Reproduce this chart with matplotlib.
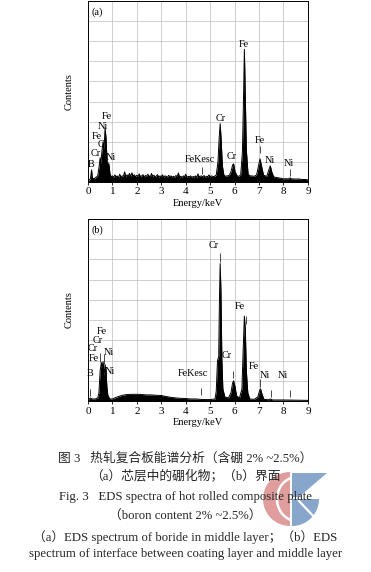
import matplotlib
matplotlib.use("Agg")
import matplotlib.pyplot as plt
from matplotlib.patches import Wedge, Polygon, Arc

plt.rcParams['font.family'] = ['Liberation Serif', 'Noto Sans CJK SC']

# ---- panel (a): boride in middle layer ----
energy_a = [0.00, 0.05, 0.10, 0.15, 0.18, 0.25, 0.30, 0.40, 0.45, 0.50, 0.53, 0.57, 0.62, 0.66,
            0.70, 0.74, 0.78, 0.82, 0.86, 0.90, 0.95, 1.00, 1.05, 1.10, 1.15, 1.20, 1.25, 1.30,
            1.35, 1.40, 1.45, 1.50, 1.55, 1.60, 1.65, 1.70, 1.75, 1.80, 1.85, 1.90, 1.95, 2.00,
            2.05, 2.10, 2.15, 2.20, 2.25, 2.30, 2.35, 2.40, 2.45, 2.50, 2.55, 2.60, 2.65, 2.70,
            2.75, 2.80, 2.85, 2.90, 2.95, 3.00, 3.05, 3.10, 3.15, 3.20, 3.25, 3.30, 3.35, 3.40,
            3.45, 3.50, 3.55, 3.60, 3.65, 3.70, 3.75, 3.80, 3.85, 3.90, 3.95, 4.00, 4.05, 4.10,
            4.15, 4.20, 4.25, 4.30, 4.35, 4.40, 4.45, 4.50, 4.55, 4.60, 4.65, 4.70, 4.75, 4.80,
            4.85, 4.90, 4.95, 5.00, 5.05, 5.10, 5.15, 5.20, 5.25, 5.32, 5.37, 5.41, 5.45, 5.50,
            5.56, 5.62, 5.70, 5.78, 5.85, 5.92, 5.96, 6.02, 6.10, 6.18, 6.25, 6.32, 6.37, 6.40,
            6.43, 6.48, 6.55, 6.62, 6.70, 6.80, 6.90, 6.98, 7.04, 7.10, 7.18, 7.25, 7.32, 7.40,
            7.46, 7.52, 7.60, 7.70, 7.80, 7.90, 8.00, 8.10, 8.20, 8.26, 8.32, 8.40, 8.50, 8.60,
            8.70, 8.80, 8.90, 9.00]
counts_a = [0.00, 0.10, 0.15, 0.60, 0.20, 0.15, 0.20, 0.30, 0.70, 1.20, 0.90, 1.50, 2.00, 1.60,
            2.70, 2.20, 1.10, 0.70, 0.90, 0.40, 0.25, 0.30, 0.22, 0.35, 0.25, 0.30, 0.20, 0.38,
            0.25, 0.30, 0.28, 0.50, 0.25, 0.35, 0.30, 0.42, 0.28, 0.45, 0.30, 0.35, 0.25, 0.33,
            0.28, 0.40, 0.25, 0.30, 0.36, 0.24, 0.32, 0.28, 0.38, 0.30, 0.25, 0.42, 0.27, 0.33,
            0.25, 0.30, 0.36, 0.22, 0.30, 0.26, 0.35, 0.24, 0.30, 0.28, 0.22, 0.33, 0.26, 0.30,
            0.24, 0.28, 0.22, 0.32, 0.26, 0.45, 0.24, 0.28, 0.22, 0.30, 0.25, 0.38, 0.22, 0.28,
            0.25, 0.30, 0.22, 0.27, 0.24, 0.30, 0.22, 0.40, 0.25, 0.28, 0.30, 0.24, 0.32, 0.22,
            0.28, 0.25, 0.35, 0.25, 0.30, 0.28, 0.26, 0.30, 0.35, 1.00, 2.20, 2.90, 2.10, 0.80,
            0.35, 0.28, 0.30, 0.32, 0.50, 0.85, 0.90, 0.50, 0.30, 0.28, 0.35, 1.50, 4.50, 6.60,
            4.80, 1.60, 0.40, 0.30, 0.30, 0.28, 0.35, 0.80, 1.15, 0.80, 0.35, 0.30, 0.28, 0.60,
            0.80, 0.50, 0.25, 0.22, 0.20, 0.18, 0.15, 0.16, 0.15, 0.20, 0.15, 0.15, 0.14, 0.15,
            0.13, 0.12, 0.12, 0.10]

labels_a = ["Fe", "Ni", "Fe", "C", "Cr", "Ni", "B", "FeKesc", "Cr", "Cr", "Fe", "Fe", "Ni", "Ni"]
label_x_a = [0.76, 0.60, 0.38, 0.52, 0.30, 0.95, 0.12, 4.58, 5.43, 5.88, 6.39, 7.04, 7.45, 8.22]
label_y_a = [3.25, 2.75, 2.28, 1.85, 1.40, 1.20, 0.85, 1.10, 3.17, 1.28, 6.83, 2.05, 1.08, 0.92]
mark_x_a = [0.83, 4.65, 7.04, 8.26]
mark_lo_a = [0.65, 0.40, 1.45, 0.30]
mark_hi_a = [1.00, 0.75, 1.80, 0.65]

# ---- panel (b): interface between coating layer and middle layer ----
energy_b = [0.00, 0.05, 0.10, 0.15, 0.20, 0.30, 0.40, 0.45, 0.50, 0.55, 0.58, 0.62, 0.66, 0.70,
            0.74, 0.78, 0.82, 0.90, 1.00, 1.10, 1.20, 1.40, 1.60, 1.80, 2.00, 2.20, 2.40, 2.60,
            2.80, 3.00, 3.20, 3.40, 3.60, 3.80, 4.00, 4.20, 4.40, 4.60, 4.80, 5.00, 5.20, 5.25,
            5.30, 5.35, 5.38, 5.41, 5.44, 5.48, 5.52, 5.60, 5.75, 5.85, 5.92, 5.96, 6.02, 6.08,
            6.20, 6.30, 6.35, 6.40, 6.44, 6.48, 6.54, 6.62, 6.80, 6.95, 7.02, 7.06, 7.12, 7.20,
            7.40, 7.47, 7.55, 8.00, 8.50, 9.00]
counts_b = [0.00, 0.10, 0.15, 0.10, 0.10, 0.10, 0.15, 0.40, 1.50, 1.90, 1.70, 1.95, 1.20, 1.80,
            1.50, 0.60, 0.25, 0.10, 0.10, 0.15, 0.20, 0.28, 0.32, 0.33, 0.33, 0.32, 0.30, 0.30,
            0.28, 0.27, 0.22, 0.18, 0.15, 0.13, 0.12, 0.10, 0.10, 0.08, 0.07, 0.07, 0.10, 0.50,
            2.00, 2.20, 5.00, 6.80, 5.50, 2.00, 0.60, 0.20, 0.15, 0.40, 0.90, 1.00, 0.70, 0.25,
            0.15, 0.60, 2.50, 4.20, 3.50, 1.50, 0.40, 0.10, 0.08, 0.20, 0.50, 0.60, 0.35, 0.08,
            0.06, 0.10, 0.05, 0.05, 0.04, 0.03]

labels_b = ["Fe", "Cr", "Cr", "Fe", "Ni", "Ni", "B", "FeKesc", "Cr", "Cr", "Fe", "Fe", "Ni", "Ni"]
label_x_b = [0.55, 0.41, 0.18, 0.25, 0.85, 0.90, 0.10, 4.28, 5.15, 5.68, 6.20, 6.77, 7.24, 7.98]
label_y_b = [3.42, 3.00, 2.60, 2.10, 2.38, 1.44, 1.36, 1.36, 7.70, 2.26, 4.66, 1.69, 1.27, 1.27]
mark_x_b = [0.10, 0.48, 0.65, 0.80, 4.63, 5.41, 5.94, 6.45, 7.04, 7.49, 8.26]
mark_lo_b = [0.25, 1.95, 1.85, 0.30, 0.30, 6.90, 1.15, 3.80, 0.70, 0.20, 0.20]
mark_hi_b = [0.60, 2.35, 2.30, 0.65, 0.65, 7.30, 1.50, 4.20, 1.10, 0.55, 0.55]

xticks = [0, 1, 2, 3, 4, 5, 6, 7, 8, 9]

caption = ["图 3   热轧复合板能谱分析（含硼 2% ~2.5%）",
           "（a）芯层中的硼化物；（b）界面",
           "Fig. 3   EDS spectra of hot rolled composite plate",
           "（boron content 2% ~2.5%）",
           "（a）EDS spectrum of boride in middle layer；（b）EDS",
           "spectrum of interface between coating layer and middle layer"]
cap_y = [458, 477, 497, 517, 537, 554]

fig = plt.figure(figsize=(3.71, 5.72), dpi=100)


def draw_panel(ax, energy, counts, labels, lx, ly, mx, mlo, mhi, tag):
    ax.fill_between(energy, counts, 0, color="black", lw=0)
    ax.plot(energy, counts, color="black", lw=0.7)
    ax.set_xlim(0, 9)
    ax.set_ylim(0, 9)
    ax.set_xticks(xticks)
    ax.set_yticks(range(10))
    ax.set_yticklabels([])
    ax.tick_params(axis="y", length=0)
    ax.tick_params(axis="x", length=2, width=0.6, labelsize=8, pad=2)
    ax.grid(True, color="#bdbdbd", lw=0.5)
    ax.set_axisbelow(True)
    for s in ax.spines.values():
        s.set_linewidth(0.7)
    for t, x, y in zip(labels, lx, ly):
        ax.text(x, y, t, fontsize=7.3, ha="center", va="center")
    ax.vlines(mx, mlo, mhi, color="black", lw=0.5)
    ax.text(0.15, 8.45, tag, fontsize=7.3, ha="left", va="center")
    ax.set_xlabel("Energy/keV", fontsize=7.5, labelpad=2)
    ax.set_ylabel("Contents", fontsize=7.5, labelpad=7)


ax_a = fig.add_axes([0.237, 0.682, 0.593, 0.316])
draw_panel(ax_a, energy_a, counts_a, labels_a, label_x_a, label_y_a,
           mark_x_a, mark_lo_a, mark_hi_a, "(a)")

ax_b = fig.add_axes([0.237, 0.299, 0.593, 0.318])
draw_panel(ax_b, energy_b, counts_b, labels_b, label_x_b, label_y_b,
           mark_x_b, mark_lo_b, mark_hi_b, "(b)")

for line, y in zip(caption, cap_y):
    fig.text(0.5, 1 - y / 572, line, fontsize=9.2, ha="center", va="center", color="#262626")

# watermark logo on top of the caption (pixel coordinates)
wm = fig.add_axes([0, 0, 1, 1])
wm.set_xlim(0, 371)
wm.set_ylim(572, 0)
wm.axis("off")
wm.add_patch(Wedge((290, 499), 27, 90, 270, color="#d98585", alpha=0.8, lw=0))
wm.add_patch(Arc((297, 499), 40, 44, theta1=95, theta2=265, color="white", lw=1.8))
wm.add_patch(Wedge((292, 499), 27, 0, 90, color="#7396c4", alpha=0.85, lw=0))
wm.add_patch(Polygon([(292, 473), (327, 473), (299, 497), (292, 497)],
                     closed=True, color="#7396c4", alpha=0.85, lw=0))
wm.plot([299, 316], [501, 519], color="white", lw=1.6)

fig.savefig("out.png", dpi=100)
